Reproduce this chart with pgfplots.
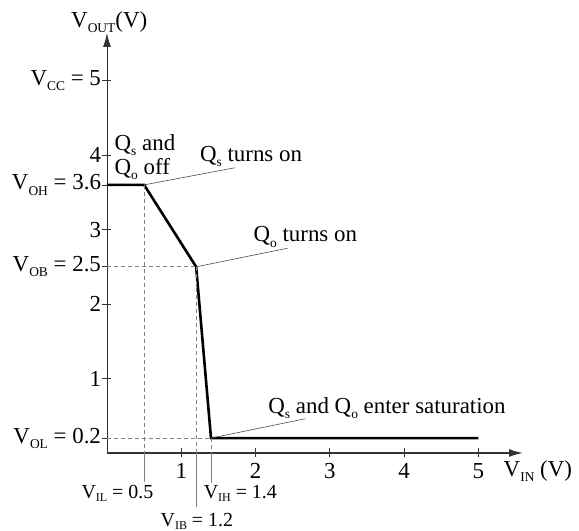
\documentclass[border=0pt]{standalone}
\usepackage{pgfplots}
\pgfplotsset{compat=1.18}
\usepackage{fontspec}
\setmainfont{Liberation Serif}
\usetikzlibrary{arrows.meta}
% small lowered subscript, as in the scanned figure
\newcommand{\sub}[1]{\raisebox{-0.5ex}{\fontsize{13.5}{13.5}\selectfont #1}}
\newcommand{\subb}[1]{\raisebox{-0.35ex}{\fontsize{12}{12}\selectfont #1}}
\newcommand{\lbl}{\fontsize{23}{24}\selectfont}
\newcommand{\lbs}{\fontsize{20}{21}\selectfont}

\begin{document}
\begin{tikzpicture}[x=1bp,y=1bp]
\begin{axis}[
    at={(0,0)}, anchor=south west,
    scale only axis,
    width=416bp, height=420bp,
    xmin=0, xmax=5.6, ymin=0, ymax=5.64,
    axis lines=left,
    x axis line style={-{Latex[length=14bp,width=8bp]}, line width=1.4bp, black!80},
    y axis line style={-{Latex[length=14bp,width=8bp]}, line width=0.9bp, black!80},
    xtick={1,2,3,4,5},
    ytick={0.2,1,2,2.5,3,3.6,4,5},
    yticklabels={{V\sub{OL} = 0.2},1,2,{V\sub{OB} = 2.5},3,{V\sub{OH} = 3.6},4,{V\sub{CC} = 5}},
    tick align=center,
    major tick length=9bp,
    tick style={black!80, line width=0.8bp},
    ticklabel style={font=\lbl},
    yticklabel style={xshift=2bp},
    xticklabel style={inner sep=0pt, yshift=-6bp},
    /pgf/number format/assume math mode=true,
    clip=false,
]
% transfer characteristic
\addplot[black, line width=2.6bp] coordinates {
    (0,3.6) (0.5,3.6) (1.2,2.5) (1.4,0.2) (5,0.2)
};

% dashed guides
\addplot[gray, dash pattern=on 4bp off 3bp, line width=0.7bp] coordinates {(0.5,3.6) (0.5,0)};
\addplot[gray, dash pattern=on 4bp off 3bp, line width=0.7bp] coordinates {(1.2,2.5) (1.2,0)};
\addplot[gray, dash pattern=on 4bp off 3bp, line width=0.7bp] coordinates {(1.4,0.2) (1.4,0)};
\addplot[gray, dash pattern=on 4bp off 3bp, line width=0.7bp] coordinates {(0,2.5) (1.2,2.5)};
\addplot[gray, dash pattern=on 4bp off 3bp, line width=0.7bp] coordinates {(0,0.2) (1.4,0.2)};

% extensions below the axis
\addplot[gray, line width=0.7bp] coordinates {(0.5,0) (0.5,-0.39)};
\addplot[gray, line width=0.7bp] coordinates {(1.2,0) (1.2,-0.72)};
\addplot[gray, line width=0.7bp] coordinates {(1.4,0) (1.4,-0.40)};

% leader lines
\addplot[black!70, line width=0.6bp] coordinates {(0.5,3.6) (1.72,3.83)};
\addplot[black!70, line width=0.6bp] coordinates {(1.2,2.5) (2.43,2.75)};
\addplot[black!70, line width=0.6bp] coordinates {(1.4,0.2) (2.67,0.46)};

% annotations
\node[anchor=west, align=left, font=\lbl, inner sep=0pt] at (axis cs:0.10,3.97) {Q\sub{s} and\\Q\sub{o} off};
\node[anchor=west, font=\lbl, inner sep=0pt] at (axis cs:1.25,3.98) {Q\sub{s} turns on};
\node[anchor=west, font=\lbl, inner sep=0pt] at (axis cs:1.97,2.90) {Q\sub{o} turns on};
\node[anchor=west, font=\lbl, inner sep=0pt] at (axis cs:2.17,0.60) {Q\sub{s} and Q\sub{o} enter saturation};

% axis names and threshold labels
\node[font=\lbl] at (axis cs:0.03,5.79) {V\sub{OUT}(V)};
\node[font=\lbl] at (axis cs:5.80,-0.24) {V\sub{IN} (V)};
\node[anchor=north, font=\lbs, inner sep=0pt] at (axis cs:0.14,-0.43) {V\subb{IL} = 0.5};
\node[anchor=south, font=\lbs, inner sep=0pt] at (axis cs:1.21,-1.035) {V\subb{IB} = 1.2};
\node[anchor=north west, font=\lbs, inner sep=0pt] at (axis cs:1.30,-0.43) {V\subb{IH} = 1.4};
\end{axis}
\path[use as bounding box] (-107,-78) rectangle (472,453);
\end{tikzpicture}
\end{document}
